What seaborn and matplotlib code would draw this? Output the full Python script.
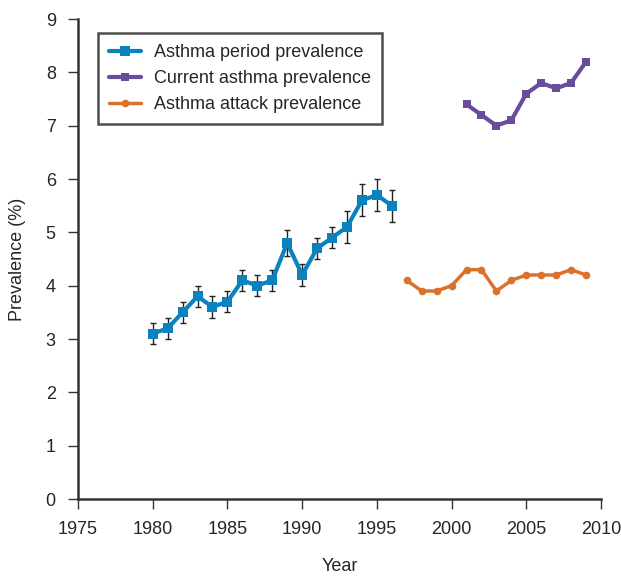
import matplotlib
matplotlib.use("Agg")
import matplotlib.pyplot as plt
import seaborn as sns
import pandas as pd

period_years = list(range(1980, 1997))
period_values = [3.1, 3.2, 3.5, 3.8, 3.6, 3.7, 4.1, 4.0, 4.1, 4.8, 4.2, 4.7, 4.9, 5.1, 5.6, 5.7, 5.5]
period_err = [0.2, 0.2, 0.2, 0.2, 0.2, 0.2, 0.2, 0.2, 0.2, 0.25, 0.2, 0.2, 0.2, 0.3, 0.3, 0.3, 0.3]

current_years = list(range(2001, 2010))
current_values = [7.4, 7.2, 7.0, 7.1, 7.6, 7.8, 7.7, 7.8, 8.2]

attack_years = list(range(1997, 2010))
attack_values = [4.1, 3.9, 3.9, 4.0, 4.3, 4.3, 3.9, 4.1, 4.2, 4.2, 4.2, 4.3, 4.2]

labels = ["Asthma period prevalence", "Current asthma prevalence", "Asthma attack prevalence"]
colors = ["#0a82c0", "#6a4c9c", "#d9732c"]

sns.set_style("ticks")
plt.rcParams["font.family"] = ["Liberation Sans", "DejaVu Sans"]

fig = plt.figure(figsize=(6.21, 5.78), dpi=100)
ax = fig.add_axes([78 / 621, 79 / 578, 523 / 621, 480 / 578])

ax.errorbar(period_years, period_values, yerr=period_err, fmt="none",
            ecolor="#222222", elinewidth=1.0, capsize=2, capthick=1.0, zorder=2)

df1 = pd.DataFrame({"Year": period_years, "Prevalence": period_values})
df2 = pd.DataFrame({"Year": current_years, "Prevalence": current_values})
df3 = pd.DataFrame({"Year": attack_years, "Prevalence": attack_values})

sns.lineplot(data=df1, x="Year", y="Prevalence", ax=ax, color=colors[0], lw=3,
             marker="s", markersize=6.5, markeredgewidth=0, label=labels[0], zorder=3)
sns.lineplot(data=df2, x="Year", y="Prevalence", ax=ax, color=colors[1], lw=3,
             marker="s", markersize=6, markeredgewidth=0, label=labels[1], zorder=3)
sns.lineplot(data=df3, x="Year", y="Prevalence", ax=ax, color=colors[2], lw=2.5,
             marker="o", markersize=5.5, markeredgewidth=0, label=labels[2], zorder=3)

ax.set_xlim(1975, 2010)
ax.set_ylim(0, 9)
ax.set_xticks(range(1975, 2011, 5))
ax.set_yticks(range(0, 10))
ax.set_xlabel("Year", fontsize=13, labelpad=14)
ax.set_ylabel("Prevalence (%)", fontsize=13, labelpad=14)
ax.tick_params(axis="both", labelsize=13, direction="out", length=7, width=1, color="#333333", pad=9)
for s in ["top", "right"]:
    ax.spines[s].set_visible(False)
for s in ["left", "bottom"]:
    ax.spines[s].set_linewidth(1.8)
    ax.spines[s].set_color("#333333")

leg = ax.legend(loc="upper left", bbox_to_anchor=(20 / 523, 1 - 14 / 480), borderaxespad=0,
                fontsize=13, frameon=True, fancybox=False, edgecolor="#222222",
                handlelength=1.8, borderpad=0.6, labelspacing=0.5, handletextpad=0.7)
leg.get_frame().set_linewidth(1.8)

fig.savefig("out.png", dpi=100)
